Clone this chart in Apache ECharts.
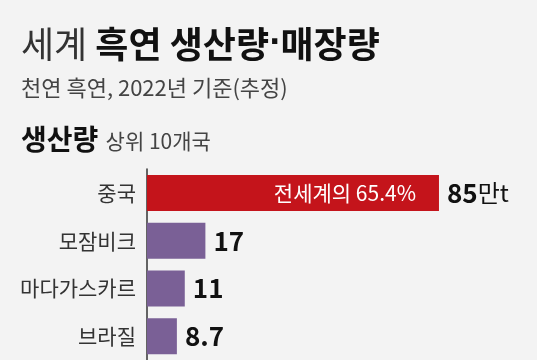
<!DOCTYPE html>
<html><head><meta charset="utf-8">
<script src="https://cdn.jsdelivr.net/npm/echarts@6/dist/echarts.min.js"></script>
<style>html,body{margin:0;padding:0;background:#f3f3f3;}#c{width:537px;height:360px;}</style>
</head><body><div id="c"></div>
<script>
var categories = ['중국', '모잠비크', '마다가스카르', '브라질'];
var values = [85, 17, 11, 8.7];
var valueLabels = ['85', '17', '11', '8.7'];
var shareText = '전세계의 65.4%';
var unitText = '만t';

var FONT = '"Noto Sans CJK KR", "Noto Sans", sans-serif';
var chart = echarts.init(document.getElementById('c'));
var barData = values.map(function (v, i) {
  return {
    value: v,
    itemStyle: { color: i === 0 ? '#c4141b' : '#7a6096' },
    label: {
      show: true, position: 'right', distance: 8,
      formatter: i === 0 ? '{n|' + valueLabels[i] + '}{u|' + unitText + '}' : '{n|' + valueLabels[i] + '}',
      rich: {
        n: { fontFamily: FONT, fontSize: 26, fontWeight: 'bold', color: '#111' },
        u: { fontFamily: FONT, fontSize: 24, fontWeight: 'normal', color: '#111' }
      }
    }
  };
});
var innerData = values.map(function (v, i) {
  return {
    value: v,
    label: i === 0 ? { show: true, position: 'insideRight', distance: 23, formatter: shareText,
      fontFamily: FONT, fontSize: 21, color: '#fff' } : { show: false }
  };
});
chart.setOption({
  backgroundColor: '#f3f3f3',
  animation: false,
  graphic: [
    { type: 'text', left: 21, top: 26, style: { rich: {
        a: { fontFamily: FONT, fontSize: 36, fontWeight: 'normal', fill: '#333' },
        b: { fontFamily: FONT, fontSize: 36, fontWeight: 'bold', fill: '#111' },
        d: { fontFamily: '"DejaVu Sans", sans-serif', fontSize: 30, fontWeight: 'bold', fill: '#111' } },
      text: '{a|세계 }{b|흑연 생산량}{d|·}{b|매장량}' } },
    { type: 'text', left: 21, top: 77, style: { text: '천연 흑연, 2022년 기준(추정)', fontFamily: FONT, fontSize: 22, fill: '#444' } },
    { type: 'text', left: 21, top: 125, style: { rich: {
        a: { fontFamily: FONT, fontSize: 28, fontWeight: 'bold', fill: '#111' },
        b: { fontFamily: FONT, fontSize: 21, fill: '#444', padding: [4, 0, 0, 4] } },
      text: '{a|생산량} {b|상위 10개국}' } }
  ],
  grid: { left: 147, top: 169, width: 343.5, height: 201, containLabel: false },
  xAxis: { type: 'value', min: 0, max: 100, show: false },
  yAxis: {
    type: 'category', data: categories, inverse: true,
    axisLine: { show: true, lineStyle: { color: '#333', width: 1.5 } },
    axisTick: { show: false },
    axisLabel: { fontFamily: FONT, fontSize: 21, color: '#333', margin: 11 }
  },
  series: [
    { type: 'bar', data: barData, barWidth: 36, z: 2 },
    { type: 'bar', data: innerData, barWidth: 36, barGap: '-100%', itemStyle: { color: 'rgba(0,0,0,0)' }, z: 3, silent: true }
  ]
});
</script></body></html>
